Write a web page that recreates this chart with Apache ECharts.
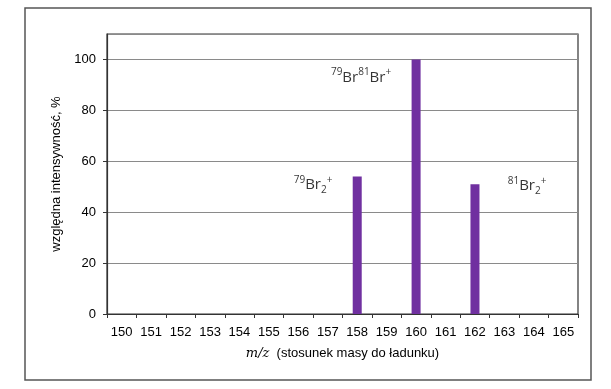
<!DOCTYPE html>
<html><head><meta charset="utf-8">
<script src="https://cdn.jsdelivr.net/npm/echarts@6/dist/echarts.min.js"></script>
<style>html,body{margin:0;padding:0;background:#fff}#c{width:611px;height:389px}</style>
</head><body><div id="c"></div>
<script>
var categories = ['150','151','152','153','154','155','156','157','158','159','160','161','162','163','164','165'];
var intensities = [null,null,null,null,null,null,null,null,54,null,100,null,51,null,null,null];
var yTicks = [0,20,40,60,80,100];
var annotations = [
  {x:158.13, y:93, text:'{sup|79}{m|Br}{sup|81}{m|Br}{sup|+}'},
  {x:156.5, y:50.6, text:'{sup|79}{m|Br}{sub|2}{sup|+}'},
  {x:163.77, y:50.2, text:'{sup|81}{m|Br}{sub|2}{sup|+}'}
];
var chart = echarts.init(document.getElementById('c'), null, {renderer:'canvas'});
var ff = 'Liberation Sans, Arial, sans-serif';
var af = 'Open Sans, Lato, sans-serif';
chart.setOption({
  animation:false,
  graphic:[{type:'rect', shape:{x:25,y:8,width:566,height:372}, style:{fill:'none', stroke:'#555', lineWidth:1.5}, silent:true}],
  grid:{left:107,top:34,right:33,bottom:75, show:true, borderColor:'#333', borderWidth:1.2, containLabel:false},
  xAxis:[{
    type:'category', data:categories, boundaryGap:true,
    axisLine:{lineStyle:{color:'#333', width:1.2}},
    axisTick:{show:true, alignWithLabel:false, length:4, lineStyle:{color:'#333'}},
    axisLabel:{color:'#000', fontSize:13, fontFamily:ff, margin:12, interval:0},
    name:'{it|m/z}{n|  (stosunek masy do ładunku)}', nameLocation:'middle', nameGap:33,
    nameTextStyle:{rich:{it:{fontFamily:'DejaVu Serif, Liberation Serif, serif', fontStyle:'italic', fontSize:13, color:'#000'}, n:{fontFamily:ff, fontSize:13, color:'#000'}}},
    splitLine:{show:false}
  },{
    type:'value', min:149.5, max:165.5, show:false
  }],
  yAxis:{
    type:'value', min:0, max:110, interval:20,
    axisLine:{show:true, lineStyle:{color:'#333', width:1.2}},
    axisTick:{show:true, length:4, lineStyle:{color:'#333'}},
    axisLabel:{color:'#000', fontSize:13, fontFamily:ff, margin:11, showMaxLabel:false,
      formatter:function(v){return yTicks.indexOf(v)>=0 ? String(v) : '';}},
    splitLine:{show:true, lineStyle:{color:'#8a8a8a', width:1}},
    name:'względna intensywność, %', nameLocation:'middle', nameGap:32, nameRotate:90,
    nameTextStyle:{color:'#000', fontSize:13, fontFamily:ff}
  },
  series:[{
    type:'bar', data:intensities, barWidth:9,
    itemStyle:{color:'#7030A0'}
  },{
    type:'scatter', xAxisIndex:1, symbolSize:0, silent:true,
    data:annotations.map(function(a){return {value:[a.x,a.y], label:{formatter:a.text}};}),
    label:{show:true, position:'inside', color:'#000',
      rich:{
        m:{fontSize:15, fontFamily:af, color:'#000', lineHeight:20, verticalAlign:'middle'},
        sup:{fontSize:10, fontFamily:af, color:'#000', verticalAlign:'top', lineHeight:20, padding:[0,0,6,0]},
        sub:{fontSize:10, fontFamily:af, color:'#000', verticalAlign:'bottom', lineHeight:20, padding:[8,0,0,0]}
      }}
  }]
});
</script></body></html>
